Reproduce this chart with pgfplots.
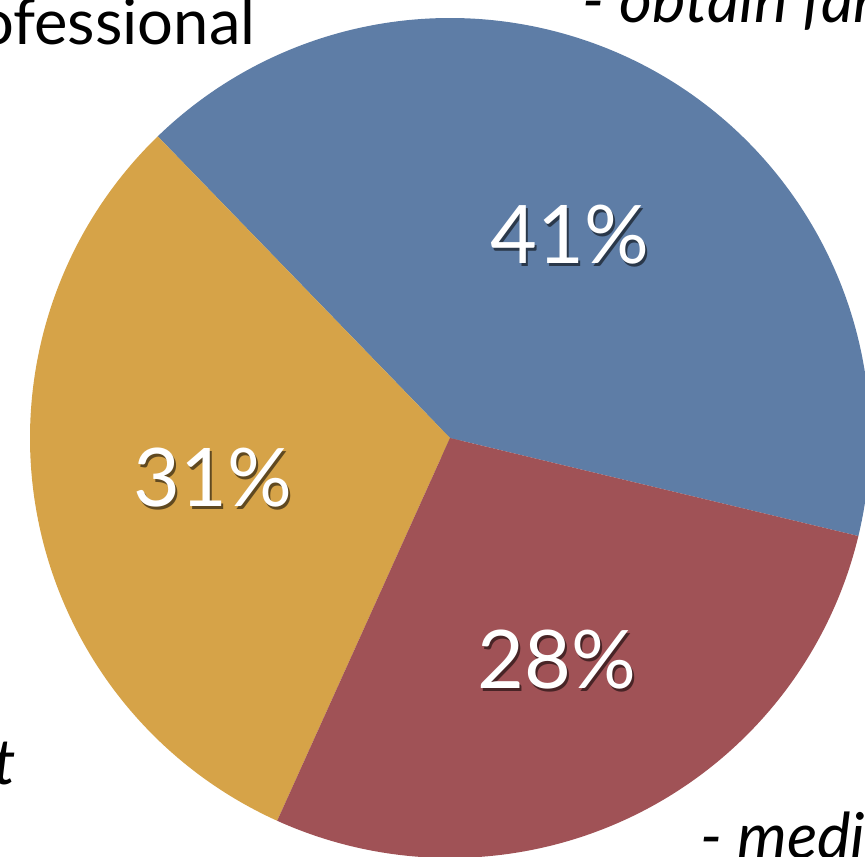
\documentclass[border=0pt]{standalone}
\usepackage{fontspec}
\setmainfont{Lato}
\usepackage{pgfplots}
\pgfplotsset{compat=1.18}
\definecolor{pieblue}{RGB}{94,125,166}
\definecolor{pieyellow}{RGB}{214,163,72}
\definecolor{piered}{RGB}{160,82,86}

\begin{document}
\begin{tikzpicture}
\begin{axis}[
    width=8.65cm, height=8.57cm, scale only axis,
    xmin=0, xmax=865, ymin=0, ymax=857,
    hide axis, clip=true,
]
% soft shadow round the pie
\foreach \k in {1,...,6}{
  \edef\tmp{\noexpand\fill[black, opacity=0.07] (axis cs:446,414) circle[radius=\the\numexpr4200+12*\k\relax pt*0.001];}
  \tmp
}
% slices: value/colour, starting at -13.5 degrees
\foreach \val/\col [remember=\e as \s (initially -13.5)] in {41/pieblue,31/pieyellow,28/piered}{
  \pgfmathsetmacro\e{\s+3.6*\val}
  \edef\tmp{\noexpand\fill[\col] (axis cs:450,419) -- ++(\s:4.2cm)
     arc[start angle=\s, end angle=\e, radius=4.2cm] -- cycle;}
  \tmp
}
\foreach \x/\y/\t in {570/622/41, 213/379/31, 557/197/28}{
  \edef\tmp{\noexpand\node[black, opacity=0.55, font=\noexpand\fontsize{23}{26}\noexpand\selectfont]
     at (axis cs:\x+2,\y-3) {\t\noexpand\%};
   \noexpand\node[white, font=\noexpand\fontsize{23}{26}\noexpand\selectfont]
     at (axis cs:\x,\y) {\t\noexpand\%};}
  \tmp
}
\node[anchor=base east, inner sep=0pt, font=\fontsize{18}{21}\selectfont] at (axis cs:256,812) {Professional};
\node[anchor=base west, font=\fontsize{18}{21}\selectfont\itshape] at (axis cs:570,834) {- obtain far};
\node[anchor=base east, font=\fontsize{18}{21}\selectfont\itshape] at (axis cs:28,72) {nt};
\node[anchor=base west, font=\fontsize{18}{21}\selectfont\itshape] at (axis cs:688,-2) {- media};
\end{axis}
\end{tikzpicture}
\end{document}
